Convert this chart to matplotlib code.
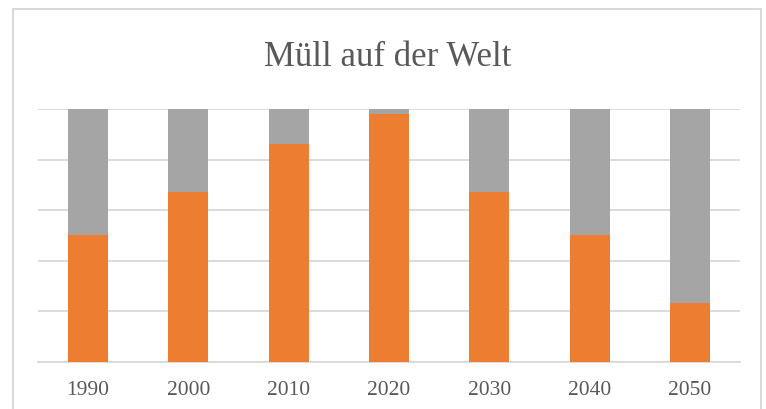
import matplotlib
matplotlib.use('Agg')
import matplotlib.pyplot as plt
from matplotlib.patches import Rectangle

# Daten (Anteile in %, 100%-gestapelt)
JAHRE = ["1990", "2000", "2010", "2020", "2030", "2040", "2050"]
ORANGE = [50, 67, 86, 98, 67, 50, 23]
GRAU = [50, 33, 14, 2, 33, 50, 77]

C_ORANGE = "#ED7D31"
C_GRAU = "#A5A5A5"
C_GRID = "#D9D9D9"
C_TEXT = "#595959"

plt.rcParams['font.family'] = ['Liberation Serif', 'DejaVu Serif']

fig = plt.figure(figsize=(7.66, 4.10), dpi=100)
ax = fig.add_axes([38 / 766, 1 - 362.5 / 410, 702 / 766, 252.5 / 410])

x = range(len(JAHRE))
ax.bar(x, ORANGE, width=0.4, color=C_ORANGE, zorder=3)
ax.bar(x, GRAU, width=0.4, bottom=ORANGE, color=C_GRAU, zorder=3)

ax.set_xlim(-0.5, len(JAHRE) - 0.5)
ax.set_ylim(0, 100)
ax.set_yticks([0, 20, 40, 60, 80, 100])
ax.yaxis.grid(True, color=C_GRID, linewidth=1.3, zorder=0)
ax.set_yticklabels([])
ax.tick_params(axis='y', length=0)

ax.set_xticks(list(x))
ax.set_xticklabels(JAHRE, fontsize=15.5, color=C_TEXT)
ax.tick_params(axis='x', length=0, pad=13)

for side in ['top', 'right', 'left']:
    ax.spines[side].set_visible(False)
ax.spines['bottom'].set_color(C_GRID)
ax.spines['bottom'].set_linewidth(1.3)

fig.text(388 / 766, 1 - 57 / 410, "Müll auf der Welt", ha='center', va='center',
         fontsize=25, color=C_TEXT)

# Rahmen des Diagramms
fig.patches.append(Rectangle((13 / 766, -0.05), 748 / 766, 1.05 - 10 / 410,
                             transform=fig.transFigure, fill=False,
                             edgecolor=C_GRID, linewidth=1.5))

fig.savefig("out.png", dpi=100)
